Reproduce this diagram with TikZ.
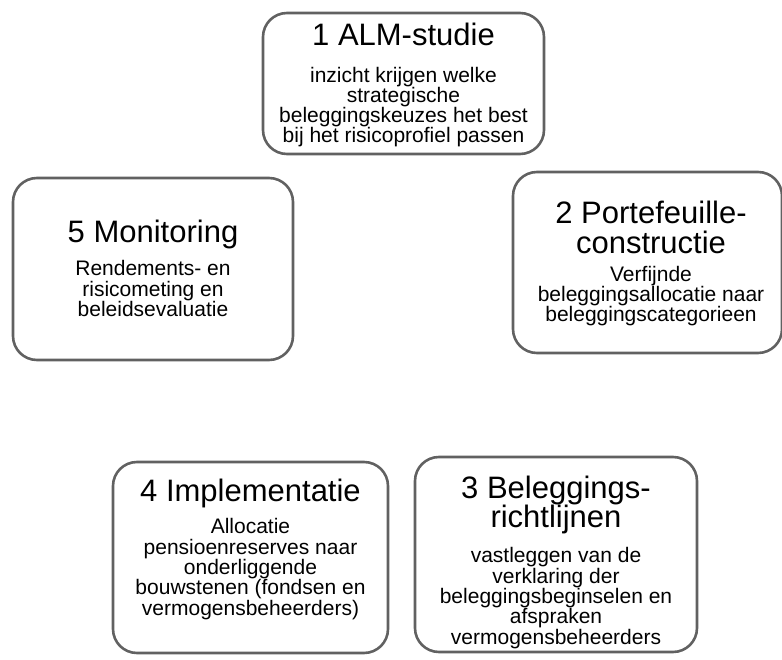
\documentclass[tikz,border=0pt]{standalone}
\usepackage{fontspec}
\setmainfont{Liberation Sans}
\begin{document}
\begin{tikzpicture}[x=1pt,y=-1pt,
  box/.style={draw=black!62, line width=2.6pt, rounded corners=24pt, inner sep=0pt, fill=none},
  ttl/.style={anchor=base, align=center, inner sep=0pt, font=\fontsize{31}{29.5}\selectfont},
  bdy/.style={anchor=base, align=center, inner sep=0pt, font=\fontsize{21}{20.3}\selectfont}]
\useasboundingbox (0,0) rectangle (782,660);
% boxes
\node[box, minimum width=281pt, minimum height=141pt] (b1) at (403.5,83.5) {};
\node[box, minimum width=280pt, minimum height=182pt] (b5) at (153,269) {};
\node[box, minimum width=269pt, minimum height=181pt] (b2) at (647.5,262.5) {};
\node[box, minimum width=275pt, minimum height=191pt] (b4) at (250.5,557.5) {};
\node[box, minimum width=282pt, minimum height=195pt] (b3) at (556,554.5) {};
% box 1 (anchor base = baseline of the last line)
\node[ttl] (t1) at (403.5,46) {1 ALM-studie};
\node[bdy] (d1) at (403.5,143) {inzicht krijgen welke\\strategische\\beleggingskeuzes het best\\bij het risicoprofiel passen};
% box 5
\node[ttl] (t5) at (153,243) {5 Monitoring};
\node[bdy] (d5) at (153,316.6) {Rendements- en\\risicometing en\\beleidsevaluatie};
% box 2
\node[ttl] (t2) at (651,253.5) {2 Portefeuille-\\constructie};
\node[bdy] (d2) at (651,321.6) {Verfijnde\\beleggingsallocatie naar\\beleggingscategorieen};
% box 4
\node[ttl] (t4) at (250.5,501) {4 Implementatie};
\node[bdy] (d4) at (250.5,615) {Allocatie\\pensioenreserves naar\\onderliggende\\bouwstenen (fondsen en\\vermogensbeheerders)};
% box 3
\node[ttl] (t3) at (556,527.5) {3 Beleggings-\\richtlijnen};
\node[bdy] (d3) at (556,644) {vastleggen van de\\verklaring der\\beleggingsbeginselen en\\afspraken\\vermogensbeheerders};
\end{tikzpicture}
\end{document}
